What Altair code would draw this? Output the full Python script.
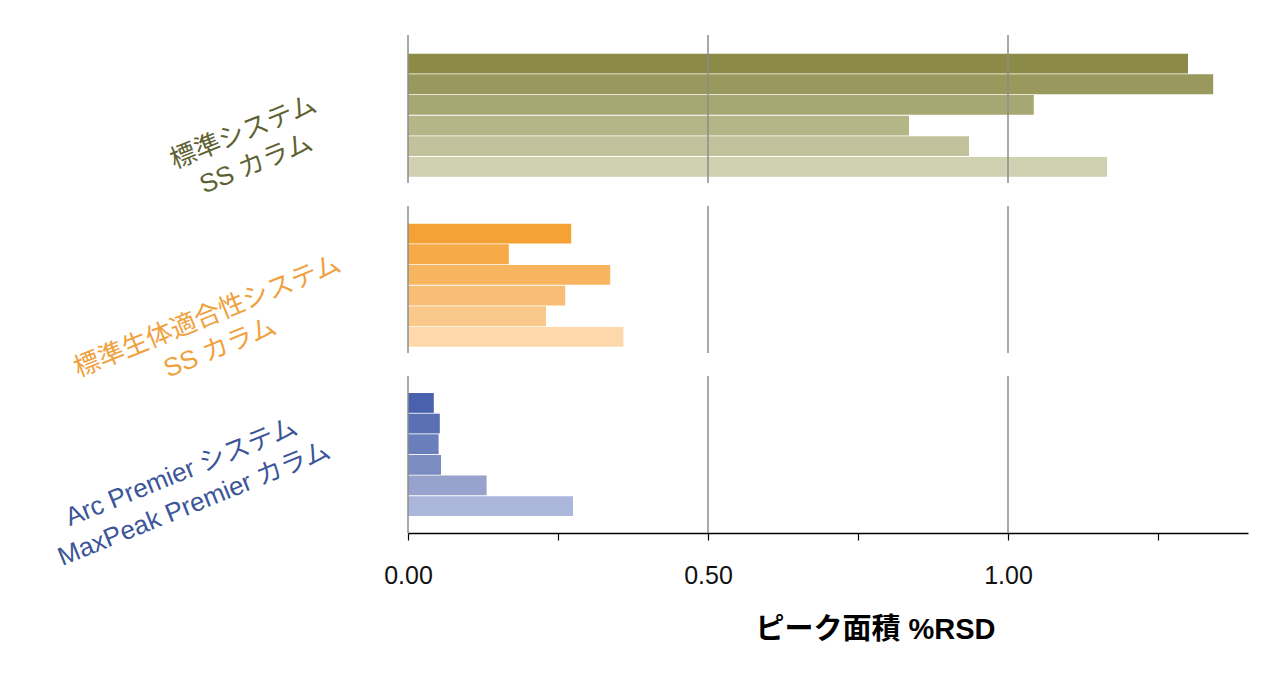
import altair as alt
import pandas as pd

bars = ["1", "2", "3", "4", "5", "6"]
std_ss = [1.300, 1.342, 1.043, 0.835, 0.935, 1.165]
bio_ss = [0.272, 0.168, 0.337, 0.262, 0.230, 0.359]
arc_mp = [0.043, 0.053, 0.051, 0.055, 0.131, 0.275]
group_labels = [
    ["標準システム", "SS カラム"],
    ["標準生体適合性システム", "SS カラム"],
    ["Arc Premier システム", "MaxPeak Premier カラム"],
]
x_ticks = [0, 0.25, 0.5, 0.75, 1.0, 1.25]
x_labeled = [0, 0.5, 1.0]
grid_vals = [0, 0.5, 1.0]
x_title = "ピーク面積 %RSD"

olive = ["#8b8b47", "#99995d", "#a7a773", "#b4b688", "#c1c29c", "#cfd1b1"]
orange = ["#f6a133", "#f7aa48", "#f8b560", "#f9be75", "#fbc88b", "#fdd8aa"]
blue = ["#4a61ad", "#5a70b5", "#6a7ebb", "#7b8cc2", "#97a3cc", "#aab6da"]

label_expr = " || ".join(f"datum.value == {v}" for v in x_labeled)
label_expr = f"({label_expr}) ? format(datum.value, '.2f') : ''"

xscale = alt.Scale(domain=[0, 1.4], nice=False, zero=True)


def panel(values, label, palette, label_color, height, po, align, tx, ty, bottom):
    df = pd.DataFrame({"bar": bars, "value": values})
    gdf = pd.DataFrame({"value": grid_vals})
    if bottom:
        xaxis = alt.Axis(
            values=x_ticks, labelExpr=label_expr, grid=False, labelFlush=False,
            domainColor="#000000", domainWidth=1.5, tickColor="#000000",
            tickWidth=1.2, tickSize=7, labelFontSize=25, labelFont="Liberation Sans",
            labelColor="#111111", labelPadding=23, title=x_title,
            titleFont="Liberation Sans Narrow, Liberation Sans, Noto Sans CJK JP",
            titleFontSize=29, titleFontWeight="bold", titleColor="#000000",
            titleX=467, titleY=82, titleAlign="center",
        )
    else:
        xaxis = None
    yaxis = alt.Axis(
        title=label, labels=False, ticks=False, domain=False, grid=False,
        titleAngle=338, titleX=tx, titleY=ty, titleAlign="center",
        titleBaseline="middle", titleColor=label_color, titleFontSize=26,
        titleFont="Liberation Sans, Noto Sans CJK JP", titleFontWeight="normal",
        titleLineHeight=34,
    )
    bars_ch = alt.Chart(df).mark_bar().encode(
        x=alt.X("value:Q", scale=xscale, axis=xaxis),
        y=alt.Y("bar:O", sort=bars, axis=yaxis,
                scale=alt.Scale(paddingInner=0.04, paddingOuter=po, align=align)),
        color=alt.Color("bar:O", scale=alt.Scale(domain=bars, range=palette), legend=None),
    )
    rules = alt.Chart(gdf).mark_rule(color="#8c8c8c", strokeWidth=1.5).encode(
        x=alt.X("value:Q", scale=xscale, axis=xaxis),
    )
    return alt.layer(bars_ch, rules).properties(width=840, height=height)


p1 = panel(std_ss, group_labels[0], olive, "#5e6233", 148, 0.605, 0.75, -165, 97, False)
p2 = panel(bio_ss, group_labels[1], orange, "#f0a03c", 147, 0.58, 0.74, -201, 110, False)
p3 = panel(arc_mp, group_labels[2], blue, "#3b5598", 157, 0.825, 0.5, -227, 96, True)

chart = alt.vconcat(p1, p2, p3, spacing=23, bounds="flush").resolve_scale(
    color="independent"
).properties(
    background="#ffffff", padding={"left": 32, "top": 26, "right": 5, "bottom": 5}
).configure_view(strokeWidth=0, stroke="transparent")

chart.save("out.html", embed_options={"renderer": "svg", "actions": False})
